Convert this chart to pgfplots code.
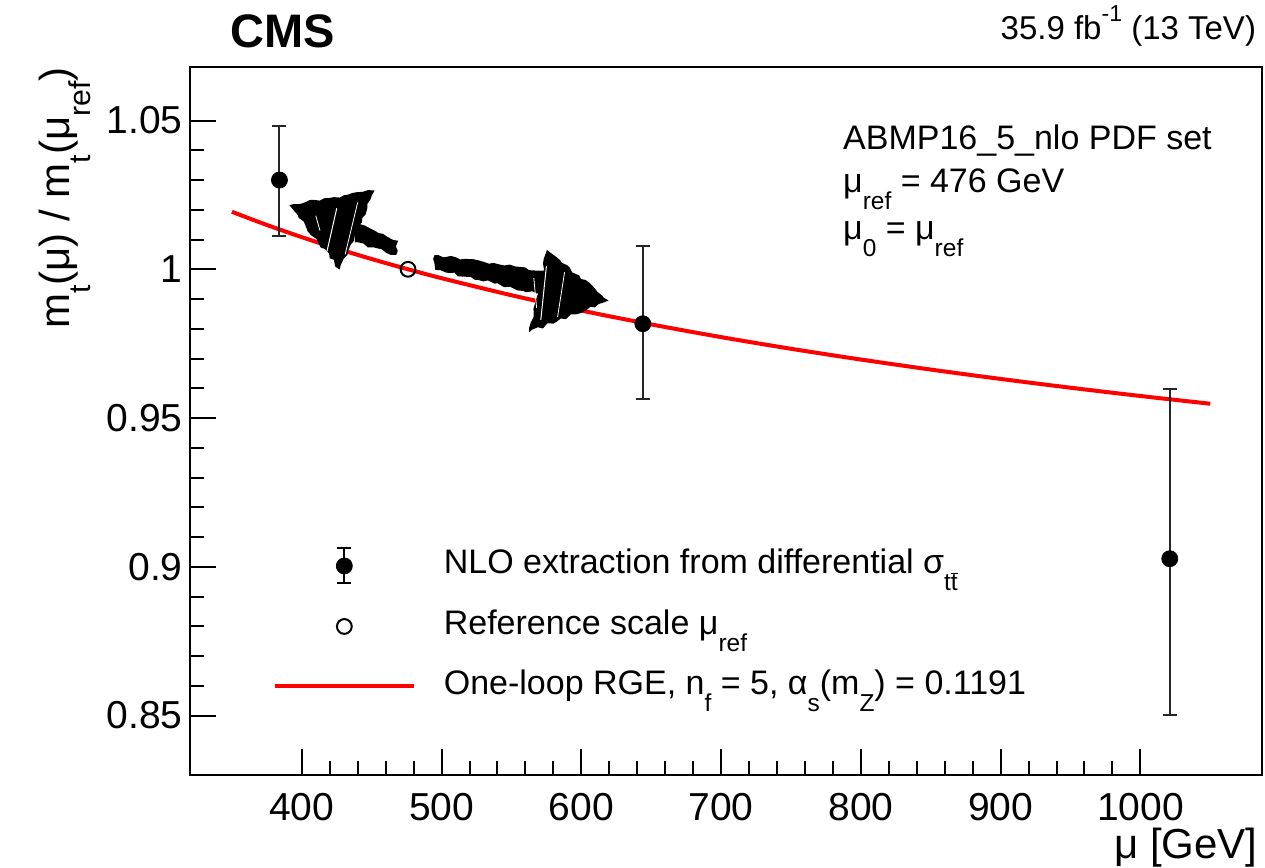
\documentclass[border=0pt]{standalone}
\usepackage{fontspec}
\setmainfont{Liberation Sans}
\usepackage{graphicx}
\usepackage{pgfplots}
\pgfplotsset{compat=1.18}
\usetikzlibrary{decorations.pathmorphing}

% ROOT-style lowered subscripts and raised superscripts
\newcommand{\sub}[1]{\raisebox{-0.5em}{\scalebox{0.72}{#1}}}
\newcommand{\supr}[1]{\raisebox{0.55em}{\scalebox{0.7}{#1}}}
\newcommand{\tbar}{$\overline{\hbox{t}}$}

\pgfplotstableread{
x    y      ep     em
384  1.0300 0.0181 0.0188
644  0.9817 0.0261 0.0252
1021 0.9027 0.0569 0.0524
}\measured

\pgfplotstableread{
x    y
350  1.01933
375  1.01490
400  1.01080
425  1.00700
450  1.00345
476  1.00000
500  0.99701
550  0.99128
600  0.98613
650  0.98147
700  0.97720
750  0.97328
800  0.96966
850  0.96629
900  0.96314
950  0.96019
1000 0.95741
1050 0.95480
}\rge

\begin{document}
\begin{tikzpicture}
\pgfmathsetseed{7}
\path[use as bounding box] (-95pt,-46.5pt) rectangle (537.5pt,387.5pt);
\begin{axis}[
  at={(0,0)}, anchor=south west, scale only axis,
  width=536pt, height=354pt,
  xmin=320, xmax=1087, ymin=0.83, ymax=1.068,
  xtick={400,500,...,1000}, ytick={0.85,0.9,0.95,1,1.05},
  minor x tick num=4, minor y tick num=4,
  xtick pos=bottom, ytick pos=left, tick align=inside,
  major tick length=13pt, minor tick length=7pt,
  axis line style={line width=1pt},
  every tick/.style={line width=1pt, black},
  /pgf/number format/assume math mode=true,
  /pgf/number format/1000 sep={},
  tick label style={font=\fontsize{19.5}{19.5}\selectfont},
  xticklabel style={anchor=north, inner sep=0pt, yshift=-9pt},
  yticklabel style={anchor=east, inner sep=0pt, xshift=-3.5pt},
  legend style={at={(axis description cs:0.0769,0.2105)}, anchor=west,
    draw=none, fill=none, inner sep=0pt, row sep=12pt, column sep=14pt,
    font=\fontsize{17}{17}\selectfont,
    nodes={inner sep=0pt, text height=13pt, text depth=5pt}},
  legend cell align=left,
]
\addlegendimage{legend image code/.code={
  \path[draw=none, fill=none] (0pt,0pt) -- (69.5pt,0pt);
  \draw[line width=1pt] (34.75pt,-8.75pt) -- (34.75pt,8.75pt);
  \draw[line width=1pt] (31.25pt,-8.75pt) -- (38.25pt,-8.75pt);
  \draw[line width=1pt] (31.25pt,8.75pt) -- (38.25pt,8.75pt);
  \fill (34.75pt,0pt) circle (4pt);}}
\addlegendentry{NLO extraction from differential σ\sub{t\tbar}}
\addlegendimage{legend image code/.code={
  \path[draw=none, fill=none] (0pt,0pt) -- (69.5pt,0pt);
  \draw[line width=1pt] (34.75pt,0pt) circle (3.7pt);}}
\addlegendentry{Reference scale μ\sub{ref}}
\addlegendimage{legend image code/.code={
  \draw[red, line width=2pt] (0pt,0pt) -- (69.5pt,0pt);}}
\addlegendentry{One-loop RGE, n\sub{f} = 5, α\sub{s}(m\sub{Z}) = 0.1191}

% one-loop running
\addplot[red, line width=2pt, smooth, forget plot] table[x=x, y=y] {\rge};

% hand-drawn double arrow
\begin{scope}[decoration={random steps, segment length=2.5pt, amplitude=0.8pt}]
\fill[black, decorate] (axis cs:391.1,1.02155) -- (axis cs:452.1,1.02650)
  -- (axis cs:427.0,0.99990) -- cycle;
\fill[black, decorate] (axis cs:436.0,1.01650) -- (axis cs:469.0,1.00960)
  -- (axis cs:467.5,1.00480) -- (axis cs:438.0,1.00900) -- cycle;
\fill[black, decorate] (axis cs:495.0,1.00480) -- (axis cs:573.0,0.99950)
  -- (axis cs:572.0,0.99150) -- (axis cs:495.5,0.99980) -- cycle;
\fill[black, decorate] (axis cs:575.4,1.00650) -- (axis cs:619.5,0.98950)
  -- (axis cs:562.5,0.97880) -- cycle;
\draw[white, line width=0.5pt] (axis cs:425,1.0205) -- (axis cs:418,1.0060);
\draw[white, line width=0.4pt] (axis cs:440,1.0225) -- (axis cs:431,1.0050);
\draw[white, line width=0.4pt] (axis cs:410,1.0180) -- (axis cs:413,1.0130);
\draw[white, line width=0.5pt] (axis cs:575,1.0010) -- (axis cs:571,0.9830);
\draw[white, line width=0.4pt] (axis cs:588,0.9990) -- (axis cs:583,0.9840);
\draw[white, line width=0.4pt] (axis cs:566,0.9970) -- (axis cs:568,0.9870);
\end{scope}

% reference point
\addplot[only marks, mark=o, mark size=3.7pt, line width=1pt, black, forget plot]
  coordinates {(476,1)};

% measured ratios
\addplot[only marks, mark=*, mark size=4pt, black, forget plot,
  error bars/.cd, y dir=both, y explicit,
  error bar style={line width=1pt, black!85},
  error mark options={rotate=90, mark size=3.5pt, line width=1pt, black!85}]
  table[x=x, y=y, y error plus=ep, y error minus=em] {\measured};
\end{axis}

\node[anchor=base west, inner sep=0pt, font=\fontsize{23.5}{23.5}\selectfont\bfseries]
  at (20.2pt,363.5pt) {CMS};
\node[anchor=base east, inner sep=0pt, font=\fontsize{16.5}{16.5}\selectfont]
  at (533.2pt,367.75pt) {35.9 fb\supr{-1} (13 TeV)};
\node[anchor=base west, inner sep=0pt, font=\fontsize{17}{17}\selectfont]
  at (326.4pt,312.5pt) {ABMP16\_5\_nlo PDF set};
\node[anchor=base west, inner sep=0pt, font=\fontsize{17}{17}\selectfont]
  at (326.4pt,291pt) {μ\sub{ref} = 476 GeV};
\node[anchor=base west, inner sep=0pt, font=\fontsize{17}{17}\selectfont]
  at (326.4pt,267.5pt) {μ\sub{0} = μ\sub{ref}};

\node[anchor=north east, inner sep=0pt, font=\fontsize{21}{21}\selectfont]
  at (534pt,-26.5pt) {μ [GeV]};
\node[rotate=90, anchor=base east, inner sep=0pt, font=\fontsize{21}{21}\selectfont]
  at (-60.3pt,354pt) {m\sub{t}(μ) / m\sub{t}(μ\sub{ref})};
\end{tikzpicture}
\end{document}
